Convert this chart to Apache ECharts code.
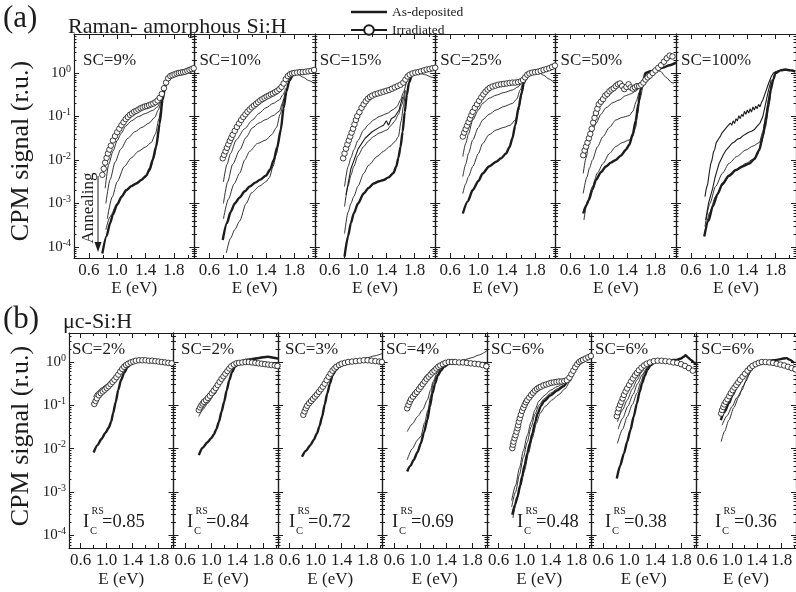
<!DOCTYPE html>
<html><head><meta charset="utf-8">
<script src="https://cdn.jsdelivr.net/npm/echarts@6/dist/echarts.min.js"></script>
<style>html,body{margin:0;padding:0;background:#fff}#c{width:796px;height:592px}</style>
</head><body><div id="c"></div>
<script>
// ---------------- DATA (E in eV, CPM signal as log10 exponent) ----------------
const TOP_LABELS = ['SC=9%','SC=10%','SC=15%','SC=25%','SC=50%','SC=100%'];
const BOT_LABELS = ['SC=2%','SC=2%','SC=3%','SC=4%','SC=6%','SC=6%','SC=6%'];
const IC_VALUES = ['0.85','0.84','0.72','0.69','0.48','0.38','0.36'];
const X_TICKS = [0.6,1.0,1.4,1.8];
const X_MINOR = [0.8,1.2,1.6,2.0];
const Y_DECADES = [-4,-3,-2,-1,0];
const Y_MINOR_MULTS = [2,3,4,5,6,7,8,9];

// (a) SC=9%
const sc9Dep = [[0.79,-4.15],[0.85,-3.75],[0.9,-3.45],[0.94,-3.25],[1.0,-3.02],[1.06,-2.85],[1.13,-2.69],[1.2,-2.6],[1.27,-2.54],[1.34,-2.46],[1.41,-2.36],[1.46,-2.2],[1.5,-2.0],[1.55,-1.69],[1.6,-1.16],[1.64,-0.62],[1.68,-0.3],[1.72,-0.12],[1.78,-0.04],[1.85,0.0],[1.92,0.03],[2.0,0.08],[2.09,0.15]];
const sc9Irr = [[0.79,-2.34],[0.81,-2.2],[0.83,-2.06],[0.85,-1.95],[0.87,-1.85],[0.89,-1.76],[0.91,-1.67],[0.94,-1.55],[0.97,-1.45],[1.0,-1.36],[1.03,-1.28],[1.06,-1.2],[1.09,-1.13],[1.12,-1.06],[1.15,-1.01],[1.18,-0.96],[1.21,-0.93],[1.24,-0.89],[1.27,-0.87],[1.3,-0.84],[1.33,-0.81],[1.36,-0.79],[1.39,-0.77],[1.42,-0.76],[1.45,-0.74],[1.48,-0.72],[1.51,-0.7],[1.54,-0.67],[1.57,-0.63],[1.6,-0.57],[1.63,-0.48],[1.66,-0.35],[1.69,-0.22],[1.72,-0.12],[1.75,-0.07],[1.78,-0.05],[1.81,-0.03],[1.84,-0.01],[1.87,0.0],[1.9,0.01],[1.93,0.02],[1.96,0.03],[1.99,0.05],[2.02,0.07],[2.05,0.09],[2.08,0.11]];
const sc9Ann1 = [[0.83,-2.65],[0.88,-2.1],[0.94,-1.8],[1.0,-1.55],[1.06,-1.38],[1.12,-1.22],[1.2,-1.1],[1.3,-1.0],[1.4,-0.93],[1.5,-0.86],[1.57,-0.78],[1.62,-0.6],[1.66,-0.36]];
const sc9Ann2 = [[0.84,-3.0],[0.9,-2.45],[0.97,-2.05],[1.05,-1.75],[1.15,-1.5],[1.25,-1.35],[1.35,-1.25],[1.45,-1.15],[1.53,-1.02],[1.58,-0.85],[1.63,-0.55]];
const sc9Ann3 = [[0.86,-3.35],[0.93,-2.85],[1.0,-2.5],[1.1,-2.15],[1.2,-1.95],[1.3,-1.8],[1.4,-1.7],[1.48,-1.6],[1.54,-1.4],[1.59,-1.05],[1.63,-0.6]];
const sc9Ann4 = [[0.84,-3.6],[0.9,-3.3],[1.0,-3.0],[1.1,-2.75],[1.2,-2.6],[1.3,-2.5],[1.4,-2.4],[1.46,-2.25],[1.52,-1.95],[1.57,-1.5],[1.61,-1.0]];
// (a) SC=10%
const sc10Dep = [[0.79,-3.84],[0.85,-3.45],[0.9,-3.2],[0.96,-3.0],[1.03,-2.86],[1.1,-2.72],[1.17,-2.61],[1.25,-2.52],[1.32,-2.45],[1.4,-2.36],[1.46,-2.22],[1.51,-2.0],[1.56,-1.7],[1.61,-1.3],[1.65,-0.8],[1.69,-0.42],[1.73,-0.18],[1.78,-0.05],[1.85,0.01],[1.92,0.03],[2.0,0.05],[2.09,0.08]];
const sc10Irr = [[0.79,-1.96],[0.81,-1.88],[0.83,-1.8],[0.85,-1.72],[0.87,-1.64],[0.89,-1.56],[0.91,-1.49],[0.93,-1.42],[0.96,-1.33],[0.99,-1.24],[1.02,-1.16],[1.05,-1.08],[1.08,-1.01],[1.11,-0.95],[1.14,-0.89],[1.17,-0.84],[1.2,-0.79],[1.23,-0.75],[1.26,-0.71],[1.29,-0.67],[1.32,-0.63],[1.35,-0.6],[1.38,-0.57],[1.41,-0.54],[1.44,-0.52],[1.47,-0.49],[1.5,-0.47],[1.53,-0.44],[1.56,-0.41],[1.59,-0.37],[1.62,-0.32],[1.65,-0.24],[1.68,-0.14],[1.71,-0.07],[1.74,-0.03],[1.77,-0.01],[1.8,0.0],[1.84,0.01],[1.88,0.02],[1.92,0.02],[1.96,0.03],[2.0,0.04],[2.04,0.05],[2.08,0.07]];
const sc10Ann1 = [[0.8,-2.5],[0.85,-2.1],[0.9,-1.85],[0.98,-1.54],[1.1,-1.28],[1.21,-1.08],[1.3,-0.93],[1.4,-0.8],[1.5,-0.7],[1.59,-0.62],[1.64,-0.5],[1.68,-0.35]];
const sc10Ann2 = [[0.8,-3.0],[0.86,-2.5],[0.93,-2.1],[1.03,-1.77],[1.12,-1.48],[1.21,-1.26],[1.3,-1.15],[1.4,-1.07],[1.5,-0.98],[1.59,-0.88],[1.63,-0.7],[1.67,-0.45]];
const sc10Ann3 = [[0.8,-3.35],[0.87,-2.9],[0.95,-2.55],[1.03,-2.3],[1.1,-2.0],[1.17,-1.8],[1.28,-1.62],[1.4,-1.54],[1.48,-1.42],[1.55,-1.25],[1.6,-0.95],[1.65,-0.6]];
const sc10Ann4 = [[0.84,-4.14],[0.9,-3.8],[0.96,-3.6],[1.03,-3.4],[1.12,-3.0],[1.2,-2.75],[1.31,-2.6],[1.4,-2.5],[1.45,-2.4],[1.5,-2.15],[1.55,-1.85],[1.6,-1.4],[1.64,-0.9]];
const sc10Drop = [[1.8,0.0],[1.86,-0.04],[1.93,-0.1],[2.0,-0.17],[2.09,-0.25]];
// (a) SC=15%
const sc15Dep = [[0.81,-4.22],[0.86,-3.75],[0.9,-3.45],[0.94,-3.23],[1.0,-3.0],[1.08,-2.77],[1.15,-2.64],[1.22,-2.54],[1.3,-2.49],[1.36,-2.46],[1.43,-2.4],[1.5,-2.3],[1.54,-2.15],[1.57,-1.95],[1.6,-1.7],[1.63,-1.35],[1.66,-0.9],[1.69,-0.5],[1.72,-0.22],[1.76,-0.06],[1.82,0.02],[1.9,0.06],[2.0,0.1],[2.09,0.15]];
const sc15Irr = [[0.79,-1.96],[0.81,-1.85],[0.83,-1.74],[0.85,-1.64],[0.87,-1.55],[0.89,-1.46],[0.91,-1.37],[0.93,-1.28],[0.95,-1.18],[0.97,-1.08],[0.99,-0.99],[1.02,-0.9],[1.05,-0.8],[1.08,-0.72],[1.11,-0.65],[1.14,-0.59],[1.17,-0.55],[1.2,-0.52],[1.24,-0.49],[1.28,-0.47],[1.32,-0.45],[1.36,-0.43],[1.4,-0.41],[1.44,-0.39],[1.48,-0.36],[1.52,-0.33],[1.56,-0.3],[1.6,-0.27],[1.64,-0.22],[1.67,-0.15],[1.7,-0.08],[1.73,-0.04],[1.77,-0.01],[1.81,0.01],[1.85,0.02],[1.89,0.04],[1.93,0.06],[1.97,0.08],[2.01,0.09],[2.05,0.11],[2.09,0.12]];
const sc15Ann1 = [[0.81,-2.61],[0.86,-2.15],[0.9,-1.95],[0.94,-1.77],[1.0,-1.55],[1.08,-1.31],[1.15,-1.18],[1.22,-1.08],[1.3,-1.0],[1.41,-0.93],[1.5,-0.84],[1.55,-0.77],[1.6,-0.62],[1.64,-0.45],[1.69,-0.16]];
const sc15Ann2 = [[0.81,-3.07],[0.86,-2.6],[0.9,-2.35],[0.94,-2.15],[1.0,-1.9],[1.08,-1.69],[1.15,-1.56],[1.22,-1.46],[1.3,-1.38],[1.41,-1.31],[1.47,-1.2],[1.52,-1.1],[1.57,-0.95],[1.62,-0.72],[1.66,-0.4]];
const sc15Ann3 = [[0.83,-2.8],[0.9,-2.2],[1.0,-1.75],[1.1,-1.5],[1.2,-1.35],[1.3,-1.25],[1.36,-1.2],[1.4,-1.1],[1.43,-1.2],[1.47,-1.05],[1.52,-1.0],[1.58,-0.85],[1.63,-0.55]];
const sc15Ann4 = [[0.81,-3.69],[0.86,-3.2],[0.9,-3.0],[0.94,-2.84],[1.0,-2.6],[1.08,-2.31],[1.15,-2.12],[1.27,-1.92],[1.36,-1.8],[1.45,-1.69],[1.52,-1.58],[1.57,-1.46],[1.61,-1.1],[1.64,-0.77],[1.67,-0.4]];
const sc15Drop = [[1.85,0.02],[1.95,-0.04],[2.05,-0.1],[2.09,-0.13]];
// (a) SC=25%
const sc25Dep = [[0.78,-3.23],[0.85,-2.95],[0.92,-2.69],[1.0,-2.48],[1.06,-2.31],[1.15,-2.15],[1.25,-2.04],[1.32,-1.96],[1.39,-1.85],[1.44,-1.7],[1.48,-1.5],[1.52,-1.2],[1.57,-0.77],[1.61,-0.45],[1.64,-0.24],[1.68,-0.08],[1.72,0.0],[1.8,0.04],[1.88,0.07],[1.96,0.1],[2.04,0.15],[2.09,0.18]];
const sc25Irr = [[0.78,-1.46],[0.8,-1.37],[0.82,-1.29],[0.84,-1.21],[0.86,-1.13],[0.88,-1.05],[0.9,-0.97],[0.92,-0.89],[0.95,-0.8],[0.98,-0.72],[1.01,-0.64],[1.04,-0.56],[1.07,-0.49],[1.1,-0.43],[1.13,-0.38],[1.16,-0.34],[1.2,-0.31],[1.24,-0.29],[1.28,-0.27],[1.32,-0.26],[1.36,-0.25],[1.4,-0.24],[1.44,-0.23],[1.48,-0.22],[1.52,-0.22],[1.56,-0.21],[1.6,-0.19],[1.63,-0.16],[1.66,-0.1],[1.69,-0.04],[1.72,-0.01],[1.76,0.01],[1.8,0.02],[1.84,0.03],[1.88,0.05],[1.92,0.07],[1.96,0.09],[2.0,0.11],[2.04,0.14],[2.08,0.17]];
const sc25Ann1 = [[0.78,-1.92],[0.82,-1.62],[0.86,-1.4],[0.92,-1.08],[1.0,-0.85],[1.06,-0.7],[1.15,-0.58],[1.25,-0.51],[1.36,-0.45],[1.48,-0.39],[1.56,-0.32],[1.62,-0.2]];
const sc25Ann2 = [[0.78,-2.38],[0.82,-2.1],[0.86,-1.85],[0.92,-1.54],[1.0,-1.25],[1.06,-1.08],[1.15,-0.95],[1.25,-0.85],[1.36,-0.77],[1.48,-0.7],[1.54,-0.6],[1.59,-0.39],[1.63,-0.2]];
const sc25Ann3 = [[0.78,-2.77],[0.82,-2.55],[0.86,-2.38],[0.92,-2.15],[1.0,-1.85],[1.06,-1.62],[1.15,-1.42],[1.25,-1.31],[1.36,-1.25],[1.45,-1.2],[1.52,-1.08],[1.57,-0.85],[1.61,-0.5],[1.64,-0.25]];
const sc25Drop = [[1.85,0.03],[1.92,-0.05],[2.0,-0.14],[2.08,-0.24]];
// (a) SC=50%
const sc50Dep = [[0.78,-3.23],[0.82,-3.05],[0.86,-2.92],[0.91,-2.68],[0.96,-2.46],[1.03,-2.28],[1.1,-2.15],[1.17,-2.06],[1.24,-2.0],[1.31,-1.9],[1.38,-1.77],[1.43,-1.65],[1.48,-1.4],[1.52,-1.1],[1.56,-0.7],[1.59,-0.39],[1.63,-0.15],[1.66,0.0],[1.73,0.04],[1.8,0.07],[1.9,0.12],[2.0,0.18],[2.09,0.24]];
const sc50Irr = [[0.78,-1.89],[0.8,-1.78],[0.82,-1.69],[0.84,-1.6],[0.86,-1.5],[0.88,-1.4],[0.9,-1.28],[0.92,-1.14],[0.94,-1.03],[0.96,-0.92],[0.98,-0.82],[1.0,-0.72],[1.03,-0.66],[1.06,-0.6],[1.09,-0.52],[1.12,-0.48],[1.15,-0.42],[1.18,-0.38],[1.21,-0.35],[1.24,-0.3],[1.27,-0.26],[1.3,-0.24],[1.33,-0.3],[1.36,-0.37],[1.39,-0.32],[1.42,-0.26],[1.45,-0.33],[1.48,-0.36],[1.51,-0.33],[1.54,-0.3],[1.57,-0.3],[1.6,-0.27],[1.63,-0.22],[1.66,-0.15],[1.69,-0.1],[1.72,-0.06],[1.76,0.0],[1.8,0.06],[1.84,0.12],[1.88,0.18],[1.92,0.26],[1.96,0.34],[2.0,0.4],[2.04,0.38]];
const sc50Ann1 = [[0.78,-2.31],[0.82,-1.95],[0.86,-1.62],[0.9,-1.38],[0.96,-1.16],[1.03,-0.95],[1.1,-0.8],[1.2,-0.68],[1.29,-0.62],[1.38,-0.52],[1.45,-0.48],[1.52,-0.42],[1.57,-0.35],[1.62,-0.2],[1.66,-0.08]];
const sc50Ann2 = [[0.78,-2.77],[0.83,-2.4],[0.87,-2.18],[0.91,-2.0],[0.98,-1.7],[1.06,-1.46],[1.15,-1.25],[1.24,-1.08],[1.33,-1.02],[1.43,-0.98],[1.48,-0.88],[1.53,-0.65],[1.57,-0.45],[1.61,-0.22]];
const sc50Ann3 = [[0.79,-3.38],[0.84,-2.95],[0.91,-2.61],[0.98,-2.3],[1.06,-2.08],[1.15,-1.85],[1.24,-1.69],[1.33,-1.6],[1.43,-1.54],[1.48,-1.46],[1.52,-1.25],[1.55,-0.93],[1.58,-0.6],[1.62,-0.31]];
const sc50Drop = [[1.8,0.07],[1.87,0.04],[1.95,-0.1],[2.03,-0.22],[2.06,-0.24]];
// (a) SC=100%
const sc100Dep = [[0.79,-3.76],[0.85,-3.4],[0.91,-3.07],[0.98,-2.78],[1.05,-2.54],[1.14,-2.36],[1.24,-2.23],[1.33,-2.15],[1.43,-2.08],[1.5,-1.98],[1.57,-1.77],[1.62,-1.45],[1.66,-1.1],[1.7,-0.7],[1.73,-0.39],[1.77,-0.14],[1.8,0.0],[1.87,0.06],[1.94,0.08],[2.01,0.06],[2.08,0.03]];
const sc100Irr = [[0.8,-2.84],[0.82,-2.65],[0.84,-2.55],[0.86,-2.31],[0.88,-2.1],[0.9,-2.0],[0.92,-1.82],[0.94,-1.75],[0.96,-1.6],[0.98,-1.62],[1.0,-1.5],[1.02,-1.45],[1.04,-1.38],[1.06,-1.42],[1.08,-1.3],[1.1,-1.33],[1.12,-1.22],[1.14,-1.26],[1.16,-1.15],[1.18,-1.2],[1.2,-1.1],[1.22,-1.16],[1.24,-1.05],[1.26,-1.1],[1.28,-0.98],[1.3,-1.05],[1.32,-0.95],[1.34,-1.0],[1.36,-0.88],[1.38,-0.95],[1.4,-0.85],[1.42,-0.92],[1.44,-0.82],[1.46,-0.9],[1.48,-0.78],[1.5,-0.85],[1.52,-0.76],[1.54,-0.82],[1.56,-0.72],[1.58,-0.78],[1.6,-0.68],[1.62,-0.62],[1.65,-0.48],[1.68,-0.34],[1.71,-0.2],[1.74,-0.08],[1.77,0.0],[1.8,0.03],[1.84,0.05],[1.88,0.07],[1.92,0.06],[1.96,0.08],[2.0,0.05],[2.04,0.07],[2.08,0.05]];
const sc100Ann1 = [[0.81,-3.38],[0.85,-3.0],[0.88,-2.82],[0.91,-2.65],[0.94,-2.42],[0.97,-2.25],[1.0,-2.08],[1.03,-1.98],[1.06,-1.88],[1.1,-1.77],[1.14,-1.7],[1.18,-1.62],[1.22,-1.58],[1.26,-1.52],[1.3,-1.5],[1.34,-1.44],[1.38,-1.4],[1.42,-1.36],[1.46,-1.34],[1.5,-1.3],[1.54,-1.22],[1.58,-1.15],[1.62,-1.0],[1.66,-0.7],[1.7,-0.4],[1.74,-0.15]];
const sc100Ann2 = [[0.8,-3.53],[0.87,-3.0],[0.95,-2.61],[1.05,-2.3],[1.14,-2.08],[1.25,-1.92],[1.38,-1.77],[1.48,-1.68],[1.57,-1.6],[1.62,-1.35],[1.66,-1.0],[1.7,-0.6],[1.74,-0.25]];
const sc100Ann3 = [[0.8,-3.65],[0.87,-3.2],[0.95,-2.84],[1.05,-2.58],[1.14,-2.38],[1.25,-2.22],[1.38,-2.08],[1.48,-1.98],[1.54,-1.88],[1.6,-1.6],[1.66,-1.23],[1.7,-0.8],[1.74,-0.35]];

// (b) Ic=0.85
const ic085Dep = [[0.8,-2.09],[0.86,-1.92],[0.92,-1.78],[0.98,-1.64],[1.03,-1.52],[1.07,-1.38],[1.1,-1.18],[1.14,-0.92],[1.18,-0.64],[1.22,-0.42],[1.27,-0.25],[1.32,-0.12],[1.38,-0.04],[1.45,0.01],[1.55,0.03],[1.65,0.03],[1.75,0.02],[1.85,0.0],[1.95,-0.02],[2.03,-0.04]];
const ic085Irr = [[0.81,-0.97],[0.83,-0.9],[0.85,-0.84],[0.88,-0.77],[0.91,-0.72],[0.94,-0.68],[0.97,-0.64],[1.0,-0.6],[1.03,-0.56],[1.06,-0.51],[1.09,-0.46],[1.12,-0.41],[1.15,-0.35],[1.18,-0.29],[1.21,-0.22],[1.24,-0.16],[1.27,-0.11],[1.3,-0.07],[1.33,-0.04],[1.37,-0.01],[1.41,0.01],[1.45,0.03],[1.5,0.04],[1.55,0.04],[1.6,0.04],[1.65,0.03],[1.7,0.03],[1.75,0.02],[1.8,0.01],[1.85,0.0],[1.9,-0.01],[1.95,-0.02],[2.0,-0.03]];
const ic085Ann1 = [[0.8,-0.8],[0.86,-0.68],[0.92,-0.6],[1.0,-0.52],[1.08,-0.4],[1.15,-0.28],[1.22,-0.15],[1.3,-0.05],[1.4,0.02],[1.55,0.05],[1.7,0.04],[1.85,0.01],[1.95,-0.05],[2.03,-0.12]];
// (b) Ic=0.84
const ic084Dep = [[0.81,-2.15],[0.87,-1.98],[0.94,-1.86],[1.0,-1.76],[1.04,-1.68],[1.08,-1.55],[1.12,-1.38],[1.16,-1.15],[1.2,-0.92],[1.24,-0.65],[1.28,-0.42],[1.32,-0.24],[1.37,-0.1],[1.43,-0.03],[1.5,0.02],[1.6,0.05],[1.7,0.08],[1.8,0.11],[1.88,0.12],[1.96,0.1],[2.03,0.08]];
const ic084Irr = [[0.81,-1.11],[0.83,-1.05],[0.85,-1.0],[0.87,-0.96],[0.89,-0.92],[0.92,-0.88],[0.95,-0.83],[0.98,-0.78],[1.01,-0.72],[1.04,-0.66],[1.07,-0.6],[1.1,-0.53],[1.13,-0.46],[1.16,-0.39],[1.19,-0.33],[1.22,-0.27],[1.25,-0.21],[1.28,-0.15],[1.31,-0.1],[1.35,-0.06],[1.39,-0.03],[1.43,-0.02],[1.48,-0.01],[1.53,0.0],[1.58,0.0],[1.63,-0.01],[1.68,-0.02],[1.73,-0.03],[1.78,-0.04],[1.83,-0.05],[1.88,-0.06],[1.93,-0.07],[1.98,-0.08],[2.02,-0.09]];
const ic084Ann1 = [[0.81,-1.26],[0.87,-1.1],[0.95,-0.95],[1.05,-0.75],[1.15,-0.5],[1.25,-0.25],[1.35,-0.06],[1.45,0.03],[1.55,0.07],[1.65,0.09],[1.75,0.11],[1.85,0.12],[1.95,0.1],[2.03,0.07]];
const ic084Ann2 = [[0.82,-1.0],[0.9,-0.85],[1.0,-0.68],[1.1,-0.47],[1.2,-0.27],[1.3,-0.1],[1.4,0.0],[1.55,0.03],[1.7,0.0],[1.85,-0.05],[2.03,-0.1]];
// (b) Ic=0.72
const ic072Dep = [[0.79,-2.19],[0.85,-2.05],[0.92,-1.92],[0.97,-1.8],[1.02,-1.65],[1.06,-1.48],[1.1,-1.26],[1.14,-0.98],[1.18,-0.72],[1.22,-0.5],[1.26,-0.31],[1.31,-0.19],[1.36,-0.11],[1.45,-0.04],[1.54,0.0],[1.65,0.03],[1.75,0.05],[1.85,0.04],[1.95,0.02],[2.03,0.0]];
const ic072Irr = [[0.81,-1.22],[0.83,-1.14],[0.85,-1.07],[0.87,-1.01],[0.9,-0.95],[0.93,-0.9],[0.96,-0.85],[0.99,-0.8],[1.02,-0.75],[1.05,-0.69],[1.08,-0.63],[1.11,-0.57],[1.14,-0.5],[1.17,-0.42],[1.2,-0.34],[1.23,-0.27],[1.26,-0.2],[1.29,-0.15],[1.32,-0.11],[1.36,-0.07],[1.4,-0.04],[1.45,-0.02],[1.5,0.0],[1.56,0.01],[1.62,0.02],[1.68,0.03],[1.74,0.04],[1.8,0.04],[1.86,0.03],[1.92,0.02],[1.98,0.01],[2.02,0.0]];
const ic072Ann1 = [[0.82,-1.1],[0.9,-0.92],[1.0,-0.75],[1.1,-0.55],[1.2,-0.32],[1.3,-0.12],[1.4,-0.03],[1.5,0.01],[1.6,0.04],[1.7,0.07],[1.8,0.1],[1.9,0.14],[2.03,0.2]];
// (b) Ic=0.69
const ic069Dep = [[0.8,-2.53],[0.85,-2.4],[0.9,-2.26],[0.96,-2.08],[1.01,-1.88],[1.06,-1.62],[1.11,-1.34],[1.15,-1.03],[1.19,-0.72],[1.23,-0.5],[1.27,-0.32],[1.32,-0.2],[1.37,-0.11],[1.44,-0.04],[1.52,0.0],[1.62,0.0],[1.72,0.0],[1.82,-0.01],[1.92,-0.02],[2.03,-0.03]];
const ic069Irr = [[0.8,-1.07],[0.82,-0.99],[0.84,-0.92],[0.86,-0.86],[0.89,-0.8],[0.92,-0.74],[0.95,-0.69],[0.98,-0.63],[1.01,-0.57],[1.04,-0.51],[1.07,-0.45],[1.1,-0.39],[1.13,-0.34],[1.16,-0.29],[1.19,-0.24],[1.22,-0.2],[1.25,-0.15],[1.28,-0.11],[1.31,-0.08],[1.35,-0.05],[1.39,-0.02],[1.44,0.0],[1.49,0.0],[1.54,0.0],[1.6,-0.01],[1.66,-0.01],[1.72,-0.02],[1.78,-0.03],[1.84,-0.04],[1.9,-0.05],[1.96,-0.07],[2.02,-0.1]];
const ic069Ann1 = [[0.81,-1.0],[0.9,-0.72],[1.0,-0.5],[1.1,-0.3],[1.2,-0.15],[1.3,-0.04],[1.4,0.0],[1.5,0.02],[1.6,0.03],[1.7,0.06],[1.8,0.1],[1.9,0.16],[2.03,0.26]];
const ic069Ann2 = [[0.8,-1.61],[0.88,-1.43],[0.96,-1.26],[1.04,-1.1],[1.11,-0.88],[1.16,-0.65],[1.2,-0.45],[1.26,-0.25],[1.32,-0.12],[1.4,-0.04],[1.5,0.0]];
const ic069Ann3 = [[0.8,-2.26],[0.88,-2.0],[0.96,-1.8],[1.01,-1.72],[1.07,-1.4],[1.12,-1.11],[1.16,-0.8],[1.2,-0.5],[1.26,-0.3],[1.32,-0.15],[1.4,-0.05]];
// (b) Ic=0.48
const ic048Dep = [[0.81,-3.53],[0.85,-3.3],[0.89,-3.11],[0.93,-2.85],[0.96,-2.65],[1.0,-2.38],[1.04,-2.11],[1.08,-1.88],[1.12,-1.65],[1.16,-1.4],[1.2,-1.19],[1.25,-1.02],[1.3,-0.9],[1.4,-0.77],[1.5,-0.66],[1.6,-0.56],[1.66,-0.46],[1.71,-0.33],[1.76,-0.17],[1.82,-0.05],[1.9,0.04],[1.97,0.09],[2.03,0.13]];
const ic048Irr = [[0.81,-1.99],[0.82,-1.91],[0.83,-1.84],[0.845,-1.76],[0.86,-1.69],[0.875,-1.61],[0.89,-1.53],[0.9,-1.46],[0.91,-1.38],[0.925,-1.3],[0.94,-1.22],[0.96,-1.13],[0.98,-1.06],[1.0,-0.99],[1.02,-0.93],[1.04,-0.88],[1.07,-0.82],[1.1,-0.76],[1.13,-0.71],[1.16,-0.66],[1.19,-0.62],[1.22,-0.59],[1.25,-0.57],[1.29,-0.54],[1.33,-0.52],[1.37,-0.5],[1.41,-0.48],[1.45,-0.47],[1.49,-0.46],[1.53,-0.45],[1.57,-0.45],[1.61,-0.44],[1.65,-0.42],[1.69,-0.36],[1.72,-0.28],[1.75,-0.2],[1.78,-0.12],[1.81,-0.05],[1.84,0.0],[1.87,0.03],[1.9,0.05],[1.94,0.08],[1.98,0.11],[2.02,0.14]];
const ic048Ann1 = [[0.8,-3.35],[0.86,-3.0],[0.92,-2.6],[0.98,-2.2],[1.04,-1.85],[1.1,-1.5],[1.16,-1.2],[1.22,-1.0],[1.3,-0.85],[1.4,-0.72],[1.5,-0.62],[1.6,-0.54],[1.68,-0.42],[1.75,-0.22],[1.82,-0.06]];
const ic048Ann2 = [[0.82,-3.6],[0.88,-3.2],[0.94,-2.85],[1.0,-2.5],[1.06,-2.1],[1.12,-1.75],[1.18,-1.42],[1.24,-1.18],[1.32,-1.02],[1.42,-0.88],[1.52,-0.76],[1.62,-0.62],[1.7,-0.45],[1.77,-0.2],[1.84,-0.04]];
const ic048Ann3 = [[0.8,-3.2],[0.86,-2.85],[0.92,-2.45],[0.98,-2.05],[1.04,-1.7],[1.1,-1.38],[1.16,-1.1],[1.22,-0.9],[1.3,-0.78],[1.4,-0.65],[1.5,-0.57],[1.6,-0.5],[1.68,-0.38],[1.74,-0.2],[1.8,-0.06]];
// (b) Ic=0.38
const ic038Dep = [[0.81,-2.69],[0.86,-2.4],[0.92,-2.11],[0.97,-1.84],[1.02,-1.57],[1.07,-1.26],[1.12,-0.95],[1.16,-0.7],[1.2,-0.49],[1.24,-0.32],[1.28,-0.18],[1.33,-0.08],[1.38,-0.02],[1.45,0.01],[1.53,0.03],[1.63,0.04],[1.74,0.05],[1.8,0.08],[1.84,0.12],[1.87,0.16],[1.91,0.1],[1.95,0.05],[2.0,-0.01],[2.05,-0.07]];
const ic038Irr = [[0.81,-1.25],[0.825,-1.16],[0.84,-1.07],[0.86,-0.99],[0.88,-0.92],[0.9,-0.84],[0.92,-0.76],[0.945,-0.68],[0.97,-0.61],[1.0,-0.53],[1.03,-0.45],[1.06,-0.38],[1.09,-0.31],[1.12,-0.25],[1.15,-0.19],[1.19,-0.13],[1.23,-0.08],[1.27,-0.04],[1.32,-0.01],[1.38,0.02],[1.44,0.03],[1.5,0.03],[1.56,0.02],[1.62,0.01],[1.68,-0.01],[1.74,-0.02],[1.8,-0.05],[1.86,-0.09],[1.92,-0.14],[1.98,-0.2],[2.04,-0.26]];
const ic038Ann1 = [[0.82,-1.38],[0.9,-1.1],[0.97,-0.88],[1.05,-0.62],[1.12,-0.42],[1.19,-0.24],[1.25,-0.11],[1.32,-0.03],[1.4,0.02],[1.55,0.04],[1.7,0.05],[1.8,0.09],[1.86,0.14],[1.9,0.11],[1.96,0.02],[2.04,-0.05]];
const ic038Ann2 = [[0.82,-1.88],[0.9,-1.55],[0.97,-1.26],[1.05,-0.98],[1.12,-0.72],[1.18,-0.46],[1.23,-0.26],[1.3,-0.1],[1.38,-0.02]];
const ic038Ann3 = [[0.83,-1.55],[0.9,-1.3],[0.98,-1.02],[1.06,-0.75],[1.13,-0.5],[1.2,-0.3],[1.27,-0.14],[1.35,-0.04]];
// (b) Ic=0.36
const ic036Dep = [[0.82,-1.34],[0.88,-1.15],[0.95,-0.95],[1.01,-0.76],[1.08,-0.57],[1.14,-0.41],[1.21,-0.26],[1.28,-0.13],[1.36,-0.04],[1.46,0.0],[1.57,0.02],[1.67,0.04],[1.77,0.06],[1.83,0.08],[1.88,0.09],[1.93,0.05],[2.0,-0.02]];
const ic036Irr = [[0.825,-1.19],[0.84,-1.11],[0.86,-1.04],[0.876,-0.98],[0.9,-0.92],[0.927,-0.86],[0.955,-0.79],[0.98,-0.72],[1.01,-0.65],[1.04,-0.59],[1.07,-0.53],[1.1,-0.47],[1.13,-0.41],[1.17,-0.34],[1.21,-0.27],[1.25,-0.2],[1.29,-0.14],[1.33,-0.09],[1.38,-0.05],[1.43,-0.02],[1.48,0.0],[1.54,0.0],[1.6,-0.01],[1.66,-0.02],[1.72,-0.04],[1.78,-0.06],[1.84,-0.08],[1.9,-0.11],[1.96,-0.14],[2.02,-0.17]];
const ic036Ann1 = [[0.825,-1.84],[0.88,-1.6],[0.95,-1.34],[1.03,-1.05],[1.11,-0.8],[1.18,-0.55],[1.26,-0.31],[1.33,-0.14],[1.42,-0.04],[1.52,0.0]];
const ic036Ann2 = [[0.84,-1.46],[0.92,-1.24],[1.0,-1.03],[1.08,-0.82],[1.16,-0.65],[1.22,-0.45],[1.3,-0.22],[1.38,-0.08],[1.48,0.0],[1.6,0.03],[1.7,0.05],[1.8,0.08],[1.86,0.1],[1.92,0.06],[2.0,0.0]];

// ---------------- PANEL TABLES ----------------
const topPanels = [
  {label:TOP_LABELS[0], dep:sc9Dep, irr:sc9Irr, ann:[sc9Ann1,sc9Ann2,sc9Ann3,sc9Ann4], rough:[]},
  {label:TOP_LABELS[1], dep:sc10Dep, irr:sc10Irr, ann:[sc10Ann1,sc10Ann2,sc10Ann3,sc10Ann4,sc10Drop], rough:[]},
  {label:TOP_LABELS[2], dep:sc15Dep, irr:sc15Irr, ann:[sc15Ann1,sc15Ann2,sc15Ann4,sc15Drop], rough:[sc15Ann3]},
  {label:TOP_LABELS[3], dep:sc25Dep, irr:sc25Irr, ann:[sc25Ann1,sc25Ann2,sc25Ann3,sc25Drop], rough:[]},
  {label:TOP_LABELS[4], dep:sc50Dep, irr:sc50Irr, ann:[sc50Ann1,sc50Ann2,sc50Ann3,sc50Drop], rough:[]},
  {label:TOP_LABELS[5], dep:sc100Dep, irr:null, ann:[sc100Ann2,sc100Ann3], rough:[sc100Irr,sc100Ann1]}
];
const botPanels = [
  {label:BOT_LABELS[0], ic:IC_VALUES[0], dep:ic085Dep, irr:ic085Irr, ann:[ic085Ann1], rough:[]},
  {label:BOT_LABELS[1], ic:IC_VALUES[1], dep:ic084Dep, irr:ic084Irr, ann:[ic084Ann1,ic084Ann2], rough:[]},
  {label:BOT_LABELS[2], ic:IC_VALUES[2], dep:ic072Dep, irr:ic072Irr, ann:[ic072Ann1], rough:[]},
  {label:BOT_LABELS[3], ic:IC_VALUES[3], dep:ic069Dep, irr:ic069Irr, ann:[ic069Ann1,ic069Ann2,ic069Ann3], rough:[]},
  {label:BOT_LABELS[4], ic:IC_VALUES[4], dep:ic048Dep, irr:ic048Irr, ann:[ic048Ann1,ic048Ann2,ic048Ann3], rough:[]},
  {label:BOT_LABELS[5], ic:IC_VALUES[5], dep:ic038Dep, irr:ic038Irr, ann:[ic038Ann1,ic038Ann2,ic038Ann3], rough:[]},
  {label:BOT_LABELS[6], ic:IC_VALUES[6], dep:ic036Dep, irr:ic036Irr, ann:[ic036Ann1,ic036Ann2], rough:[]}
];

// ---------------- LAYOUT / STYLE ----------------
const FONT = "'Liberation Serif','Times New Roman',serif";
const INK = '#1c1c1c';
const ROW_A = {left:74, width:120.4, top:34, height:224, xMin:0.39, xMax:2.09, yMin:-4.253, yMax:0.897, nameGap:22,
  labelDx:[9,5,5,5,5,5], labelY:61};
const ROW_B = {left:69, width:104.5, top:333, height:215, xMin:0.42, xMax:2.03, yMin:-4.296, yMax:0.67, nameGap:23,
  labelDx:[3,7.5,7,3.5,4,3.5,5], labelY:350, icDx:[14,13.5,11,9.5,30,13.5,19], icY:522};

function minorLogs(min, max){
  const out=[];
  for(let n=-5;n<=0;n++) for(const m of Y_MINOR_MULTS){ const v=n+Math.log10(m); if(v>min && v<max) out.push(v); }
  return out;
}

const grids=[], xAxes=[], yAxes=[], series=[], graphics=[];

function txt(x,y,text,size,extra){
  return Object.assign({type:'text', x:x, y:y, silent:true, z:50,
    style:{text:text, fontFamily:FONT, fontSize:size, fill:INK, align:'left', verticalAlign:'middle'}}, extra||{});
}

function addPanel(R, i, p){
  const g = grids.length;
  const left = R.left + i*R.width;
  grids.push({left:left, top:R.top, width:R.width, height:R.height, containLabel:false});
  const xi = xAxes.length, yi = yAxes.length;
  const line = {show:true, onZero:false, lineStyle:{color:INK, width:1.2}};
  const noLine = {show:false, onZero:false};
  const xb = {gridIndex:g, type:'value', min:R.xMin, max:R.xMax, splitLine:{show:false}, axisLabel:{show:false}};
  const yb = {gridIndex:g, type:'value', min:R.yMin, max:R.yMax, splitLine:{show:false}, axisLabel:{show:false}};
  const tk = (vals,len)=>({show:true, inside:true, length:len, customValues:vals, lineStyle:{color:INK, width:1}});
  const yMinor = minorLogs(R.yMin, R.yMax);
  xAxes.push(Object.assign({}, xb, {position:'bottom', axisLine:line, axisTick:tk(X_TICKS,5),
    axisLabel:{show:true, customValues:X_TICKS, formatter:v=>Number(v).toFixed(1), fontFamily:FONT, fontSize:17, color:INK, margin:4},
    name:'E (eV)', nameLocation:'middle', nameGap:R.nameGap, nameTextStyle:{fontFamily:FONT, fontSize:17, color:INK}}));
  xAxes.push(Object.assign({}, xb, {position:'bottom', axisLine:noLine, axisTick:tk(X_MINOR,3)}));
  xAxes.push(Object.assign({}, xb, {position:'top', axisLine:line, axisTick:tk(X_TICKS,5)}));
  xAxes.push(Object.assign({}, xb, {position:'top', axisLine:noLine, axisTick:tk(X_MINOR,3)}));
  const yLab = i===0 ? {show:true, customValues:Y_DECADES, margin:3,
      formatter:v=>'{b|10}{s|'+Math.round(v)+'}',
      rich:{b:{fontFamily:FONT, fontSize:15, color:INK, lineHeight:18},
            s:{fontFamily:FONT, fontSize:10, color:INK, lineHeight:10, verticalAlign:'top'}}} : {show:false};
  yAxes.push(Object.assign({}, yb, {position:'left', axisLine:line, axisTick:tk(Y_DECADES,5), axisLabel:yLab}));
  yAxes.push(Object.assign({}, yb, {position:'left', axisLine:noLine, axisTick:tk(yMinor,2.5)}));
  yAxes.push(Object.assign({}, yb, {position:'right', axisLine:line, axisTick:tk(Y_DECADES,5)}));
  yAxes.push(Object.assign({}, yb, {position:'right', axisLine:noLine, axisTick:tk(yMinor,2.5)}));

  const base = {type:'line', xAxisIndex:xi, yAxisIndex:yi, silent:true, animation:false, clip:true};
  p.ann.forEach(d=>series.push(Object.assign({}, base, {data:d, symbol:'none', showSymbol:false, smooth:0.25, smoothMonotone:'x',
    lineStyle:{color:INK, width:0.9}, itemStyle:{color:INK}, z:2})));
  p.rough.forEach(d=>series.push(Object.assign({}, base, {data:d, symbol:'none', showSymbol:false, smooth:false,
    lineStyle:{color:INK, width:1.1}, itemStyle:{color:INK}, z:2})));
  series.push(Object.assign({}, base, {name:'As-deposited', data:p.dep, symbol:'none', showSymbol:false, smooth:0.25, smoothMonotone:'x',
    lineStyle:{color:INK, width:2.4}, itemStyle:{color:INK}, z:3}));
  if(p.irr) series.push(Object.assign({}, base, {name:'Irradiated', data:p.irr, showSymbol:true, symbol:'circle', symbolSize:5.5,
    smooth:0.25, smoothMonotone:'x', lineStyle:{color:INK, width:0.9},
    itemStyle:{color:'#fff', borderColor:INK, borderWidth:0.85}, z:4}));

  graphics.push(txt(left + R.labelDx[i], R.labelY, p.label, 17));
  if(p.ic){
    const x0 = left + R.icDx[i], y0 = R.icY;
    graphics.push(txt(x0, y0, 'I', 18.5));
    graphics.push(txt(x0+7, y0+9, 'C', 10.5));
    graphics.push(txt(x0+8.5, y0-11, 'RS', 10));
    graphics.push(txt(x0+19, y0, '='+p.ic, 18.5));
  }
}

topPanels.forEach((p,i)=>addPanel(ROW_A,i,p));
botPanels.forEach((p,i)=>addPanel(ROW_B,i,p));

// headings and annotations
graphics.push(txt(3, 19, '(a)', 31));
graphics.push(txt(68, 27, 'Raman- amorphous Si:H', 22));
graphics.push(txt(3, 320, '(b)', 31));
graphics.push(txt(63, 322, 'μc-Si:H', 22));
graphics.push(txt(21, 151, 'CPM signal (r.u.)', 26, {rotation:Math.PI/2, style:{text:'CPM signal (r.u.)', fontFamily:FONT, fontSize:26, fill:INK, align:'center', verticalAlign:'middle'}}));
graphics.push(txt(21, 436, 'CPM signal (r.u.)', 26, {rotation:Math.PI/2, style:{text:'CPM signal (r.u.)', fontFamily:FONT, fontSize:26, fill:INK, align:'center', verticalAlign:'middle'}}));
graphics.push(txt(89, 208, 'Annealing', 17, {rotation:Math.PI/2, style:{text:'Annealing', fontFamily:FONT, fontSize:17, fill:INK, align:'center', verticalAlign:'middle'}}));
graphics.push({type:'line', silent:true, z:50, shape:{x1:98, y1:176, x2:98, y2:244}, style:{stroke:INK, lineWidth:1}});
graphics.push({type:'polygon', silent:true, z:50, shape:{points:[[94.5,242],[101.5,242],[98,252]]}, style:{fill:INK}});

const chart = echarts.init(document.getElementById('c'), null, {renderer:'canvas'});
chart.setOption({
  backgroundColor:'#fff',
  animation:false,
  legend:{data:[{name:'As-deposited', icon:'path://M0,0 L36,0 L36,2.6 L0,2.6 Z', itemStyle:{color:INK, borderWidth:0}},
                {name:'Irradiated'}],
    orient:'vertical', left:345, top:0, itemWidth:36, itemHeight:12, itemGap:4, symbolKeepAspect:true,
    selectedMode:false, textStyle:{fontFamily:FONT, fontSize:13.5, color:INK}},
  grid:grids, xAxis:xAxes, yAxis:yAxes, series:series, graphic:graphics
});
</script></body></html>
